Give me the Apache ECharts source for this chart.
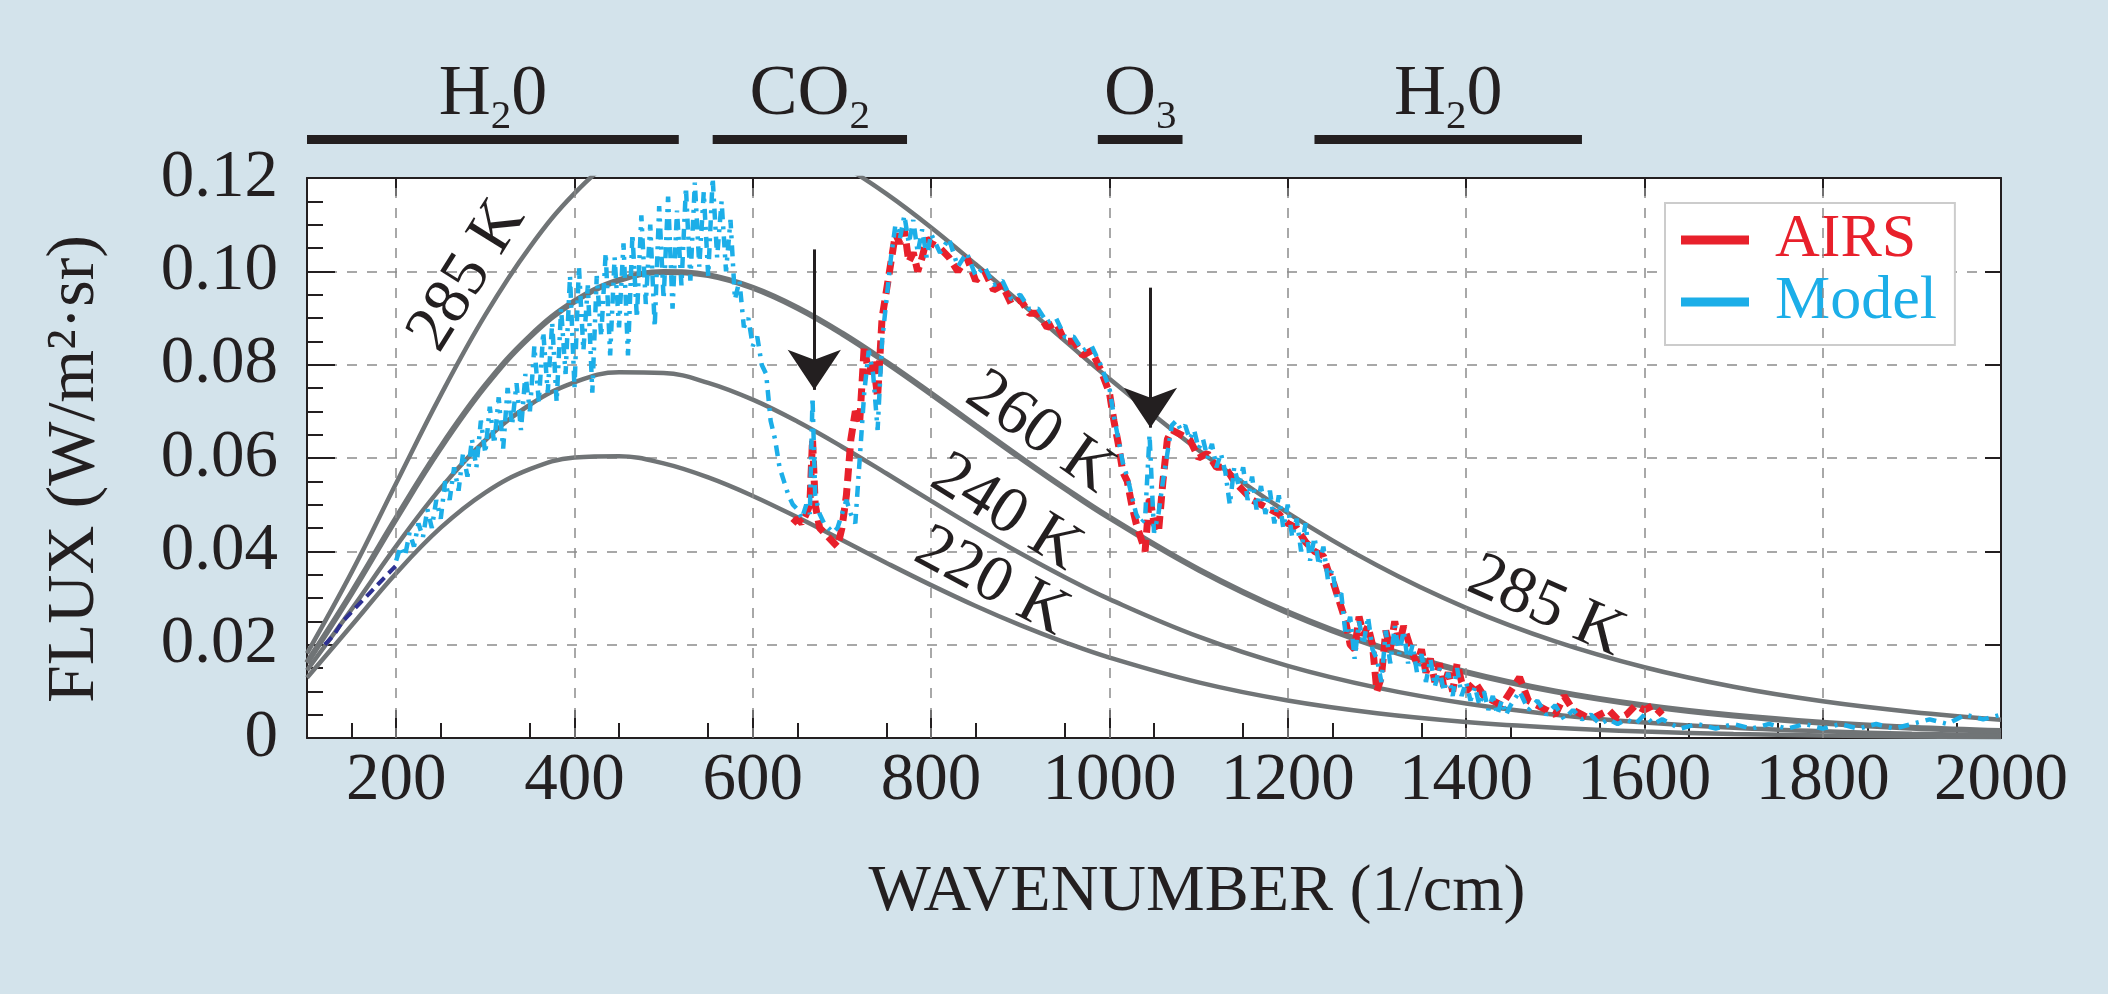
<!DOCTYPE html>
<html>
<head>
<meta charset="utf-8">
<style>
  html, body { margin: 0; padding: 0; background: #d3e3eb; }
  #chart { width: 2108px; height: 994px; }
</style>
<script src="https://cdn.jsdelivr.net/npm/echarts@6/dist/echarts.min.js"></script>
</head>
<body>
<div id="chart"></div>
<script>
// ---------------- DATA ----------------
const xTickValues = [200, 400, 600, 800, 1000, 1200, 1400, 1600, 1800, 2000];
const yTickLabels = ['0', '0.02', '0.04', '0.06', '0.08', '0.10', '0.12'];

// Blackbody reference curves (wavenumber grid + flux per temperature)
const planckNu = [100,150,200,250,300,350,400,450,500,550,600,650,700,750,800,850,900,950,1000,
                  1100,1200,1300,1400,1500,1600,1700,1800,1900,2000];
const flux220K = [0.01290,0.02411,0.03531,0.04507,0.05260,0.05761,0.06011,0.06039,0.05885,0.05584,
                  0.05187,0.04729,0.04242,0.03751,0.03276,0.02829,0.02419,0.02050,0.01723,
                  0.01192,0.00804,0.00532,0.00345,0.00221,0.00139,0.00087,0.00054,0.00033,0.00020];
const flux240K = [0.01450,0.02758,0.04113,0.05354,0.06380,0.07141,0.07622,0.07839,0.07822,0.07611,
                  0.07250,0.06781,0.06242,0.05667,0.05081,0.04506,0.03958,0.03445,0.02975,
                  0.02172,0.01547,0.01080,0.00740,0.00500,0.00333,0.00219,0.00143,0.00092,0.00059];
const flux260K = [0.01612,0.03108,0.04707,0.06227,0.07549,0.08602,0.09356,0.09810,0.09986,0.09918,
                  0.09647,0.09217,0.08671,0.08045,0.07376,0.06689,0.06008,0.05349,0.04725,
                  0.03610,0.02692,0.01967,0.01412,0.00999,0.00697,0.00481,0.00328,0.00222,0.00149];
const flux285K = [0.01814,0.03550,0.05461,0.07348,0.09066,0.1052,0.1167,0.1248,0.1297,0.1315,
                  0.1307,0.1277,0.1228,0.1166,0.1094,0.1015,0.09334,0.08509,0.07696,
                  0.06167,0.04825,0.03700,0.02788,0.02069,0.01515,0.01097,0.00786,0.00558,0.00393];

// Model spectrum [wavenumber, flux]
const modelSpectrum = [
 [200,0.038],[205,0.041],[210,0.039],[215,0.044],[220,0.041],[225,0.046],[230,0.043],[235,0.049],
 [240,0.045],[245,0.051],[250,0.047],[255,0.055],[260,0.051],[265,0.058],[270,0.053],[275,0.061],
 [280,0.056],[285,0.064],[290,0.058],[295,0.068],[300,0.061],[305,0.071],[310,0.063],[315,0.073],
 [320,0.062],[325,0.075],[330,0.067],[335,0.076],[340,0.066],[345,0.078],[350,0.070],[355,0.084],
 [360,0.072],[365,0.087],[370,0.074],[375,0.089],[380,0.072],[385,0.092],[390,0.078],[395,0.099],
 [400,0.075],[405,0.101],[410,0.083],[415,0.097],[420,0.074],[425,0.099],[430,0.086],[435,0.104],
 [440,0.082],[445,0.103],[450,0.088],[455,0.106],[460,0.082],[465,0.108],[470,0.090],[475,0.112],
 [480,0.093],[485,0.110],[490,0.088],[495,0.114],[500,0.094],[505,0.116],[510,0.092],[515,0.113],
 [520,0.097],[525,0.118],[530,0.098],[535,0.119],[540,0.101],[545,0.117],[550,0.099],[555,0.120],
 [560,0.103],[565,0.115],[570,0.100],[575,0.111],[580,0.094],[585,0.098],[590,0.088],[595,0.090],
 [600,0.084],[605,0.086],[610,0.080],[615,0.078],[620,0.068],[625,0.064],[630,0.058],[635,0.055],
 [640,0.052],[645,0.050],[650,0.049],[655,0.047],[660,0.050],[664,0.048],[667,0.073],[670,0.052],
 [675,0.048],[680,0.046],[685,0.045],[690,0.044],[695,0.045],[700,0.048],[705,0.051],[710,0.048],
 [715,0.046],[720,0.060],[725,0.074],[730,0.083],[735,0.078],[740,0.066],[745,0.085],[750,0.094],
 [755,0.103],[760,0.110],[765,0.107],[770,0.112],[775,0.106],[780,0.111],[785,0.104],[790,0.109],
 [795,0.103],[800,0.108],[810,0.104],[820,0.107],[830,0.101],[840,0.104],[850,0.099],[860,0.101],
 [870,0.097],[880,0.098],[890,0.094],[900,0.095],[910,0.092],[920,0.092],[930,0.089],[940,0.090],
 [950,0.086],[960,0.086],[970,0.083],[980,0.084],[990,0.080],[1000,0.075],[1005,0.069],[1010,0.064],
 [1015,0.059],[1020,0.056],[1025,0.052],[1030,0.048],[1035,0.046],[1040,0.047],[1045,0.065],[1050,0.044],
 [1055,0.048],[1060,0.055],[1065,0.061],[1070,0.067],[1075,0.068],[1080,0.066],[1085,0.067],[1090,0.064],
 [1095,0.066],[1100,0.062],[1105,0.064],[1110,0.060],[1115,0.063],[1120,0.058],[1125,0.061],[1130,0.057],
 [1135,0.050],[1140,0.058],[1145,0.054],[1150,0.058],[1155,0.051],[1160,0.056],[1165,0.049],[1170,0.054],
 [1175,0.048],[1180,0.053],[1185,0.046],[1190,0.052],[1195,0.045],[1200,0.050],[1205,0.043],[1210,0.047],
 [1215,0.040],[1220,0.046],[1225,0.038],[1230,0.043],[1235,0.037],[1240,0.041],[1245,0.034],[1250,0.036],
 [1255,0.030],[1260,0.031],[1265,0.022],[1270,0.026],[1275,0.017],[1280,0.025],[1285,0.020],[1290,0.026],
 [1295,0.019],[1300,0.017],[1305,0.012],[1310,0.023],[1315,0.016],[1320,0.024],[1325,0.018],[1330,0.023],
 [1335,0.016],[1340,0.020],[1345,0.014],[1350,0.018],[1355,0.012],[1360,0.017],[1365,0.011],[1370,0.015],
 [1375,0.010],[1380,0.014],[1385,0.009],[1390,0.015],[1395,0.009],[1400,0.012],[1405,0.008],[1410,0.011],
 [1415,0.007],[1420,0.010],[1425,0.006],[1430,0.009],[1435,0.005],[1440,0.008],[1445,0.005],[1450,0.007],
 [1460,0.010],[1470,0.006],[1480,0.008],[1490,0.005],[1500,0.007],[1510,0.004],[1520,0.006],[1530,0.004],
 [1540,0.005],[1550,0.003],[1560,0.004],[1570,0.003],[1580,0.004],[1590,0.003],[1600,0.005],[1610,0.003],
 [1620,0.004],[1640,0.002],[1660,0.003],[1680,0.002],[1700,0.003],[1720,0.002],[1740,0.003],[1760,0.002],
 [1780,0.003],[1800,0.002],[1820,0.003],[1840,0.002],[1860,0.003],[1880,0.002],[1900,0.003],[1920,0.004],
 [1940,0.003],[1960,0.005],[1980,0.004],[2000,0.005]
];

// Low-wavenumber (dark blue) segment
const lowBandSpectrum = [[120,0.020],[130,0.022],[140,0.025],[150,0.027],[160,0.029],[170,0.031],
                         [180,0.033],[190,0.035],[200,0.037]];

// AIRS spectrum [wavenumber, flux]
const airsSpectrum = [
 [645,0.046],[650,0.047],[655,0.046],[660,0.048],[664,0.050],[667,0.064],[670,0.050],[675,0.045],
 [680,0.044],[685,0.043],[690,0.042],[695,0.041],[700,0.045],[705,0.052],[710,0.064],[715,0.070],
 [720,0.068],[725,0.084],[730,0.078],[735,0.081],[740,0.073],[745,0.090],[750,0.096],[755,0.102],
 [760,0.108],[765,0.106],[770,0.109],[775,0.102],[780,0.104],[785,0.100],[790,0.103],[795,0.107],
 [800,0.106],[810,0.105],[820,0.103],[830,0.100],[840,0.103],[850,0.098],[860,0.100],[870,0.096],
 [880,0.097],[890,0.093],[900,0.094],[910,0.091],[920,0.091],[930,0.088],[940,0.089],[950,0.085],
 [960,0.085],[970,0.082],[980,0.083],[990,0.079],[1000,0.074],[1005,0.068],[1010,0.063],[1015,0.057],
 [1020,0.055],[1025,0.050],[1030,0.046],[1035,0.043],[1040,0.040],[1045,0.052],[1050,0.046],[1055,0.044],
 [1060,0.055],[1065,0.064],[1070,0.066],[1080,0.065],[1090,0.064],[1100,0.060],[1110,0.061],[1120,0.058],
 [1130,0.058],[1140,0.055],[1150,0.053],[1160,0.051],[1170,0.050],[1180,0.049],[1190,0.048],[1200,0.046],
 [1210,0.045],[1220,0.042],[1230,0.040],[1240,0.039],[1245,0.036],[1250,0.034],[1255,0.031],[1260,0.028],
 [1265,0.025],[1270,0.020],[1275,0.019],[1280,0.026],[1285,0.022],[1290,0.024],[1295,0.020],[1300,0.010],
 [1305,0.013],[1310,0.023],[1315,0.019],[1320,0.025],[1325,0.020],[1330,0.024],[1335,0.021],[1340,0.018],
 [1345,0.016],[1350,0.019],[1355,0.014],[1360,0.017],[1365,0.012],[1370,0.016],[1375,0.011],[1380,0.014],
 [1385,0.010],[1390,0.016],[1395,0.012],[1400,0.010],[1410,0.012],[1420,0.009],[1430,0.008],[1440,0.007],
 [1450,0.010],[1460,0.013],[1470,0.008],[1480,0.007],[1490,0.006],[1500,0.005],[1510,0.009],[1520,0.006],
 [1530,0.005],[1540,0.004],[1550,0.005],[1560,0.006],[1570,0.004],[1580,0.005],[1590,0.007],[1600,0.006],
 [1610,0.007],[1620,0.005]
];

// Absorption band annotations
const bandMain  = ['H', 'CO', 'O', 'H'];
const bandSub   = ['2', '2', '3', '2'];
const bandTail  = ['0', '', '', '0'];
const bandStart = [100, 555, 987, 1230];
const bandEnd   = [517, 773, 1082, 1530];

// Temperature labels on curves
const curveLabelText = ['285 K', '260 K', '240 K', '220 K', '285 K'];
const curveLabelNu   = [280, 922, 884, 868, 1490];
const curveLabelFlux = [0.0990, 0.0654, 0.0482, 0.0334, 0.0281];

// Arrows (wavenumber, top flux, tip flux)
const arrowNu   = [669, 1046];
const arrowTop  = [0.1047, 0.0965];
const arrowTip  = [0.0746, 0.0665];

// ---------------- STYLE ----------------
const FONT = 'Liberation Serif';
const INK = '#231f20';
const RED = '#e8202b';
const CYAN = '#1caee8';
const GREY = '#707476';
const GRIDC = '#8c8c8c';
const curveLabelRotate = [58, -35, -32, -28, -24];

const chart = echarts.init(document.getElementById('chart'), null, { renderer: 'canvas' });

function planckSeries(name, arr, width) {
  return {
    name: name, type: 'line', xAxisIndex: 0, yAxisIndex: 0,
    data: planckNu.map((nu, i) => [nu, arr[i]]),
    showSymbol: false, symbol: 'none', smooth: 0.4,
    lineStyle: { color: GREY, width: width }, itemStyle: { color: GREY },
    z: 3, silent: true, clip: true
  };
}

const noStroke = { textBorderWidth: 0, textBorderColor: 'transparent', textShadowBlur: 0, opacity: 1 };

const option = {
  animation: false,
  backgroundColor: '#d3e3eb',
  textStyle: { fontFamily: FONT, color: INK },
  grid: [
    { left: 307, top: 178, width: 1694, height: 560, show: true, backgroundColor: '#ffffff', borderWidth: 0 },
    { left: 307, top: 129.5, width: 1694, height: 20, show: false }
  ],
  legend: {
    left: 1665, top: 203, orient: 'vertical',
    data: [
      { name: 'AIRS', textStyle: { color: RED } },
      { name: 'Model', textStyle: { color: CYAN } }
    ],
    icon: 'rect', itemWidth: 68, itemHeight: 9, itemGap: 0,
    padding: [6, 18, 12, 16],
    backgroundColor: '#ffffff', borderColor: '#cccccc', borderWidth: 2, borderRadius: 0,
    textStyle: { fontFamily: FONT, fontSize: 62, lineHeight: 60, padding: [0, 0, 0, 21] },
    selectedMode: false
  },
  xAxis: [
    {
      type: 'value', gridIndex: 0, position: 'bottom', min: 100, max: 2000, interval: 200,
      name: 'WAVENUMBER (1/cm)', nameLocation: 'middle', nameGap: 122,
      nameTextStyle: { fontFamily: FONT, fontSize: 66, color: INK, padding: [0, 0, 0, 86] },
      axisLine: { show: true, onZero: false, lineStyle: { color: INK, width: 2 } },
      axisTick: { show: true, inside: true, length: 28, customValues: xTickValues, lineStyle: { color: INK, width: 2 } },
      minorTick: { show: true, splitNumber: 4, length: 15, lineStyle: { color: INK, width: 2 } },
      axisLabel: { show: true, customValues: xTickValues, margin: 10, fontSize: 67, fontFamily: FONT, color: INK,
                   hideOverlap: false, formatter: v => String(v) },
      splitLine: { show: false }, minorSplitLine: { show: false }
    },
    {
      type: 'value', gridIndex: 0, position: 'top', min: 100, max: 2000, interval: 200,
      axisLine: { show: true, onZero: false, lineStyle: { color: INK, width: 2 } },
      axisTick: { show: true, inside: true, length: 18, customValues: xTickValues, lineStyle: { color: INK, width: 2 } },
      axisLabel: { show: false }, splitLine: { show: false }
    },
    {
      type: 'value', gridIndex: 1, min: 100, max: 2000, show: false
    }
  ],
  yAxis: [
    {
      type: 'value', gridIndex: 0, position: 'left', min: 0, max: 0.12, interval: 0.02,
      name: 'FLUX (W/m²·sr)', nameLocation: 'middle', nameGap: 198, nameRotate: 90,
      nameTextStyle: { fontFamily: FONT, fontSize: 68, color: INK, padding: [0, 22, 0, 0] },
      axisLine: { show: true, onZero: false, lineStyle: { color: INK, width: 2 } },
      axisTick: { show: true, inside: true, length: 28, lineStyle: { color: INK, width: 2 } },
      minorTick: { show: true, splitNumber: 4, length: 16, lineStyle: { color: INK, width: 2 } },
      axisLabel: { show: true, margin: 29, fontSize: 67, fontFamily: FONT, color: INK,
                   formatter: v => yTickLabels[Math.round(v / 0.02)] },
      splitLine: { show: true, showMinLine: false, showMaxLine: false,
                   lineStyle: { color: GRIDC, width: 1.5, type: [10, 10] } }
    },
    {
      type: 'value', gridIndex: 0, position: 'right', min: 0, max: 0.12, interval: 0.02,
      axisLine: { show: true, onZero: false, lineStyle: { color: INK, width: 2 } },
      axisTick: { show: true, inside: true, length: 16, lineStyle: { color: INK, width: 2 } },
      axisLabel: { show: false }, splitLine: { show: false }
    },
    {
      type: 'value', gridIndex: 1, min: 0, max: 1, show: false
    }
  ],
  series: [
    // vertical dashed grid lines
    {
      name: 'vgrid', type: 'line', xAxisIndex: 0, yAxisIndex: 0, data: [[100, 0]],
      symbol: 'none', lineStyle: { opacity: 0 }, silent: true, z: 1,
      markLine: {
        silent: true, symbol: ['none', 'none'], label: { show: false },
        lineStyle: { color: GRIDC, width: 1.5, type: [10, 10] },
        emphasis: { disabled: true },
        data: xTickValues.filter(v => v < 2000).map(v => ({ xAxis: v }))
      }
    },
    planckSeries('220 K', flux220K, 4.5),
    planckSeries('240 K', flux240K, 4.5),
    planckSeries('260 K', flux260K, 6),
    planckSeries('285 K', flux285K, 4.5),
    {
      name: 'AIRS', type: 'line', xAxisIndex: 0, yAxisIndex: 0, data: airsSpectrum,
      symbol: 'none', showSymbol: false,
      lineStyle: { color: RED, width: 7, type: [13, 7], cap: 'butt' }, itemStyle: { color: RED },
      z: 4, silent: true
    },
    {
      name: 'Model', type: 'line', xAxisIndex: 0, yAxisIndex: 0, data: modelSpectrum,
      symbol: 'none', showSymbol: false,
      lineStyle: { color: CYAN, width: 4.5, type: [11, 7, 3, 7], cap: 'butt' }, itemStyle: { color: CYAN },
      z: 5, silent: true
    },
    {
      name: 'low', type: 'line', xAxisIndex: 0, yAxisIndex: 0, data: lowBandSpectrum,
      symbol: 'none', showSymbol: false,
      lineStyle: { color: '#2e3192', width: 4, type: [10, 6] }, itemStyle: { color: '#2e3192' },
      z: 5, silent: true
    },
    // curve labels + arrows
    {
      name: 'curveLabels', type: 'scatter', xAxisIndex: 0, yAxisIndex: 0, symbolSize: 0, silent: true, z: 8,
      clip: false, itemStyle: { opacity: 1 },
      data: curveLabelText.map((t, i) => ({
        value: [curveLabelNu[i], curveLabelFlux[i]],
        label: { rotate: curveLabelRotate[i], formatter: t }
      })),
      label: Object.assign({ show: true, position: 'inside', fontFamily: FONT, fontSize: 66, color: INK }, noStroke),
      markLine: {
        silent: true, symbol: ['none', 'arrow'], symbolSize: [40, 40],
        label: { show: false }, emphasis: { disabled: true },
        lineStyle: { color: INK, width: 3, type: 'solid', opacity: 1 },
        data: arrowNu.map((nu, i) => [{ coord: [nu, arrowTop[i]] }, { coord: [nu, arrowTip[i]] }])
      }
    },
    // band bars above the plot
    ...bandMain.map((m, i) => ({
      name: 'band' + i, type: 'line', xAxisIndex: 2, yAxisIndex: 2,
      data: [[bandStart[i], 0.5], [bandEnd[i], 0.5]],
      symbol: 'none', silent: true,
      lineStyle: { color: INK, width: 9, cap: 'butt' }
    })),
    {
      name: 'bandLabels', type: 'scatter', xAxisIndex: 2, yAxisIndex: 2, symbolSize: 0, silent: true, clip: false,
      itemStyle: { opacity: 1 },
      data: bandMain.map((m, i) => ({
        value: [(bandStart[i] + bandEnd[i]) / 2, 0.5],
        label: { formatter: '{n|' + m + '}{s|' + bandSub[i] + '}' + (bandTail[i] ? '{n|' + bandTail[i] + '}' : '') }
      })),
      label: Object.assign({
        show: true, position: 'inside', offset: [0, -41], color: INK,
        rich: {
          n: Object.assign({ fontFamily: FONT, fontSize: 72, lineHeight: 72, verticalAlign: 'top', color: INK }, noStroke),
          s: Object.assign({ fontFamily: FONT, fontSize: 41, lineHeight: 79, verticalAlign: 'bottom', color: INK }, noStroke)
        }
      }, noStroke)
    }
  ]
};

chart.setOption(option);
</script>
</body>
</html>
